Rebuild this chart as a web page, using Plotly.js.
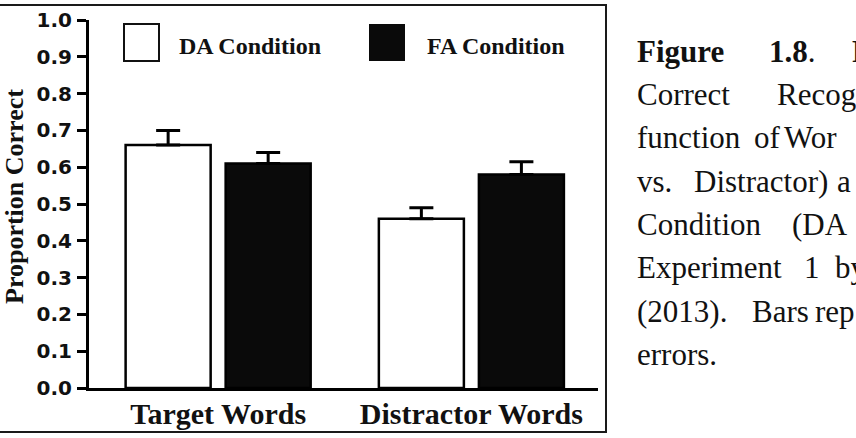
<!DOCTYPE html>
<html>
<head>
<meta charset="utf-8">
<script src="https://cdn.plot.ly/plotly-3.0.1.min.js"></script>
<style>
  html, body { margin: 0; padding: 0; background: #ffffff; }
  #chart { width: 856px; height: 438px; }
</style>
</head>
<body>
<div id="chart"></div>
<script>
// ---- data ----
const categories = ['Target Words', 'Distractor Words'];
const seriesNames = ['DA Condition', 'FA Condition'];
const daValues = [0.66, 0.46];
const daErrors = [0.04, 0.03];
const faValues = [0.61, 0.58];
const faErrors = [0.03, 0.035];
const yTickValues = [0.0, 0.1, 0.2, 0.3, 0.4, 0.5, 0.6, 0.7, 0.8, 0.9, 1.0];
const yTickLabels = ['0.0', '0.1', '0.2', '0.3', '0.4', '0.5', '0.6', '0.7', '0.8', '0.9', '1.0'];
const yAxisTitle = 'Proportion Correct';
const captionWords = [
  ['Figure', '1.8', 'P'],
  ['Correct', 'Recog'],
  ['function', 'of', 'Wor'],
  ['vs.', 'Distractor)', 'a'],
  ['Condition', '(DA'],
  ['Experiment', '1', 'by'],
  ['(2013).', 'Bars', 'rep'],
  ['errors.']
];

// ---- layout helpers (pixel positions of decorations) ----
const W = 856, H = 438;
const L = 89, R = 598, T = 20, B = 388;
const px2x = p => (p - L) / (R - L);
const py2y = p => (B - p) / (B - T);

const captionX = [
  [635, 767, 850],
  [635, 775],
  [635, 752, 782],
  [635, 692, 835],
  [635, 790],
  [635, 802, 833],
  [635, 750, 813],
  [635]
];
const captionBaselines = [62, 105, 148, 192, 235, 278, 322, 365];
const captionSize = 31;

const traces = [
  {
    type: 'bar',
    name: seriesNames[0],
    x: categories,
    y: daValues,
    marker: { color: '#ffffff', line: { color: '#000000', width: 2.5 } },
    error_y: { type: 'data', array: daErrors, arrayminus: daErrors.map(() => 0),
               symmetric: false, color: '#000000', thickness: 3, width: 12 },
    showlegend: false
  },
  {
    type: 'bar',
    name: seriesNames[1],
    x: categories,
    y: faValues,
    marker: { color: '#0a0a0a', line: { color: '#000000', width: 2.5 } },
    error_y: { type: 'data', array: faErrors, arrayminus: faErrors.map(() => 0),
               symmetric: false, color: '#000000', thickness: 3, width: 12 },
    showlegend: false
  }
];

const shapes = [
  // outer frame
  { type: 'rect', xref: 'paper', yref: 'paper',
    x0: px2x(-3), x1: px2x(606), y0: py2y(432), y1: py2y(5),
    line: { color: '#1a1a1a', width: 2 }, fillcolor: 'rgba(0,0,0,0)', layer: 'below' },
  // legend swatches
  { type: 'rect', xref: 'paper', yref: 'paper',
    x0: px2x(124), x1: px2x(159), y0: py2y(61), y1: py2y(24),
    line: { color: '#111111', width: 2 }, fillcolor: '#ffffff' },
  { type: 'rect', xref: 'paper', yref: 'paper',
    x0: px2x(370), x1: px2x(404), y0: py2y(60), y1: py2y(25),
    line: { color: '#0a0a0a', width: 2 }, fillcolor: '#0a0a0a' }
];

const annotations = [
  { xref: 'paper', yref: 'paper', x: px2x(177), y: py2y(46), xanchor: 'left', yanchor: 'middle',
    text: '<b>' + seriesNames[0] + '</b>', showarrow: false,
    font: { family: 'Liberation Serif, Times New Roman, serif', size: 24, color: '#111111' } },
  { xref: 'paper', yref: 'paper', x: px2x(425), y: py2y(46), xanchor: 'left', yanchor: 'middle',
    text: '<b>' + seriesNames[1] + '</b>', showarrow: false,
    font: { family: 'Liberation Serif, Times New Roman, serif', size: 24, color: '#111111' } },
  { xref: 'paper', yref: 'paper', x: px2x(14), y: py2y(197), xanchor: 'center', yanchor: 'middle',
    text: '<b>' + yAxisTitle + '</b>', textangle: -90, showarrow: false,
    font: { family: 'Liberation Serif, Times New Roman, serif', size: 26, color: '#111111' } }
];

captionWords.forEach((line, i) => {
  line.forEach((word, j) => {
    let txt = word;
    if (i === 0 && j === 1) txt = '<b>' + word + '</b>.';
    else if (i === 0) txt = '<b>' + word + '</b>';
    annotations.push({
      xref: 'paper', yref: 'paper',
      x: px2x(captionX[i][j]), y: py2y(captionBaselines[i] - 0.3375 * captionSize),
      xanchor: 'left', yanchor: 'middle', showarrow: false, text: txt,
      font: { family: 'Liberation Serif, Times New Roman, serif', size: captionSize, color: '#111111' }
    });
  });
});

const layout = {
  width: W, height: H,
  margin: { l: L, r: W - R, t: T, b: H - B, pad: 0 },
  paper_bgcolor: '#ffffff', plot_bgcolor: '#ffffff',
  barmode: 'group', bargap: 0.21, bargroupgap: 0.15,
  showlegend: false,
  xaxis: {
    type: 'category', range: [-0.51, 1.5],
    showline: true, linewidth: 3, linecolor: '#000000',
    ticks: '', showgrid: false, zeroline: false,
    tickfont: { family: 'Liberation Serif, Times New Roman, serif', size: 30, color: '#111111', weight: 'bold' },
    ticklabelstandoff: -3
  },
  yaxis: {
    range: [0, 1], tickvals: yTickValues, ticktext: yTickLabels,
    showline: true, linewidth: 3, linecolor: '#000000',
    ticks: 'outside', ticklen: 9, tickwidth: 3, tickcolor: '#000000',
    showgrid: false, zeroline: false,
    tickfont: { family: 'DejaVu Sans, Arial, sans-serif', size: 20, color: '#111111', weight: 'bold' },
    ticklabelstandoff: 1
  },
  shapes: shapes,
  annotations: annotations
};

Plotly.newPlot('chart', traces, layout, { displayModeBar: false, staticPlot: true });
</script>
</body>
</html>
